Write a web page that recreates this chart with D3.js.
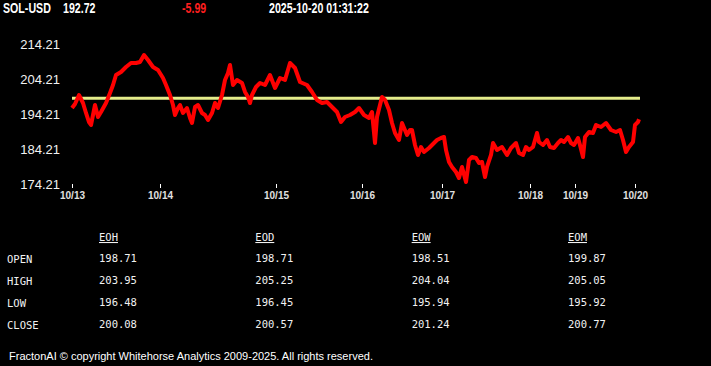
<!DOCTYPE html>
<html>
<head>
<meta charset="utf-8">
<script src="https://cdn.jsdelivr.net/npm/d3@7"></script>
<style>
  html, body { margin: 0; padding: 0; background: #000; }
  svg { display: block; }
</style>
</head>
<body>
<svg id="chart" width="711" height="366"></svg>
<script>
// header
let symbol = "SOL-USD";
let lastPrice = "192.72";
let change = "-5.99";
let stamp = "2025-10-20 01:31:22";

// price series (sample number, price)
let sampleIdx = [0,3,7,11,14,17,19,21,23,26,29,34,38,41,44,49,54,59,64,68,72,76,81,86,91,94,98,101,103,106,108,111,115,118,120,123,126,130,133,136,140,143,146,150,153,156,158,161,165,170,173,176,178,180,184,188,193,198,203,208,213,218,223,228,235,240,245,250,255,260,265,269,273,278,283,287,292,297,300,303,305,308,310,313,317,320,323,327,330,335,338,340,343,346,349,352,357,362,365,369,372,374,377,380,384,387,390,394,397,400,404,407,410,413,415,419,421,425,430,435,439,444,447,451,454,457,461,465,467,471,475,478,482,486,489,492,496,499,502,506,508,511,513,517,521,524,529,534,539,544,548,551,554,557,561,563,566,567];
let prices = [195.92,197.07,199.64,197.35,194.50,191.92,191.07,193.92,196.78,193.35,194.78,197.35,200.21,202.50,205.35,206.21,207.64,208.78,208.78,209.07,211.07,209.64,207.64,206.78,204.50,202.50,199.64,196.78,193.92,195.92,196.78,194.50,195.92,193.07,191.64,196.21,196.78,194.50,193.92,192.50,194.50,197.35,195.92,199.64,203.92,205.92,208.21,202.50,203.92,203.07,200.50,199.07,197.35,199.64,201.92,203.07,202.50,205.35,201.64,204.50,203.92,208.78,207.35,203.35,202.50,200.50,198.21,197.35,197.64,196.21,194.78,191.92,193.35,193.92,194.78,195.92,193.92,193.07,194.78,185.92,193.35,196.78,199.07,198.21,195.35,191.64,188.78,186.78,191.64,188.21,189.64,189.64,185.35,182.50,184.78,183.35,184.50,185.92,186.78,187.35,187.64,183.92,180.50,179.07,177.64,175.92,179.07,174.78,181.07,181.92,181.64,180.21,180.50,176.21,179.07,182.50,185.92,183.92,184.78,182.50,184.50,185.92,183.07,182.50,184.78,183.92,184.78,188.78,186.21,185.35,186.78,184.78,184.50,185.92,186.78,186.21,187.64,185.92,185.35,187.35,185.35,181.92,187.64,189.07,188.78,191.07,190.50,191.64,189.64,189.07,189.64,186.78,183.35,184.78,186.21,191.07,191.92,192.72];
let openPrice = 198.71;

// axes
let yTicks = [174.21, 184.21, 194.21, 204.21, 214.21];
let dayLabels = ["10/13","10/14","10/15","10/16","10/17","10/18","10/19","10/20"];
let dayIdx = [0, 88, 204, 290, 370, 458, 503, 563];

// stats table
let statCols = ["EOH", "EOD", "EOW", "EOM"];
let statRows = ["OPEN", "HIGH", "LOW", "CLOSE"];
let eoh = [198.71, 203.95, 196.48, 200.08];
let eod = [198.71, 205.25, 196.45, 200.57];
let eow = [198.51, 204.04, 195.94, 201.24];
let eom = [199.87, 205.05, 195.92, 200.77];

let footer = "FractonAI \u00a9 copyright Whitehorse Analytics 2009-2025. All rights reserved.";

let chart = d3.select("#chart");

//header line - no narrow font installed, so squeeze bold Arial horizontally
function hdr(txt, xpos, col) {
    chart.append("text")
        .attr("transform", "translate(" + xpos + ",13) scale(0.76,1)")
        .attr("font-family", "'Liberation Sans', Arial, sans-serif")
        .attr("font-size", "14px")
        .attr("font-weight", "bold")
        .attr("fill", col)
        .text(txt);
}
hdr(symbol, 3, "#fff");
hdr(lastPrice, 63, "#fff");
hdr(change, 182, "#ff1f1f");
hdr(stamp, 269, "#fff");

//scales
let x = d3.scaleLinear()
    .domain([0, 567])
    .range([72, 639]);
let y = d3.scaleLinear()
    .domain([174.21, 214.21])
    .range([184, 44]);

//y labels (no tick lines)
chart.append("g").selectAll("text")
    .data(yTicks)
    .enter()
    .append("text")
        .attr("x", 60)
        .attr("y", function(d) { return y(d); })
        .attr("dy", "0.35em")
        .attr("text-anchor", "end")
        .attr("font-family", "'Liberation Sans', Arial, sans-serif")
        .attr("font-size", "13px")
        .attr("fill", "#f2f2f2")
        .text(function(d) { return d.toFixed(2); });

//x axis ticks + day labels
let xg = chart.append("g").attr("transform", "translate(0,184)");
xg.call(d3.axisBottom(x).tickValues(dayIdx).tickSize(4).tickPadding(4)
    .tickFormat(function(d, i) { return dayLabels[i]; }));
xg.select(".domain").remove();
xg.selectAll(".tick line").attr("stroke", "#fff");
xg.selectAll(".tick text")
    .attr("fill", "#e0e0e0")
    .attr("font-family", "'Liberation Sans', Arial, sans-serif")
    .attr("font-size", "10px")
    .attr("font-weight", "bold");

//open reference line
chart.append("line")
    .attr("x1", x(0))
    .attr("x2", x(568))
    .attr("y1", y(openPrice))
    .attr("y2", y(openPrice))
    .attr("stroke", "#e4ec8a")
    .attr("stroke-width", 3);

//price line
let line = d3.line()
    .x(function(d, i) { return x(sampleIdx[i]); })
    .y(function(d) { return y(d); });
chart.append("path")
    .datum(prices)
    .attr("d", line)
    .attr("fill", "none")
    .attr("stroke", "#ff0000")
    .attr("stroke-width", 4)
    .attr("stroke-linejoin", "round");

//stats table
let mono = "'DejaVu Sans Mono', 'Liberation Mono', monospace";
let colX = d3.scalePoint().domain(statCols).range([99, 568]);
let rowY = d3.scalePoint().domain(statRows).range([262, 328]);
let colData = [eoh, eod, eow, eom];

chart.append("g").selectAll("text")
    .data(statCols)
    .enter()
    .append("text")
        .attr("x", function(d) { return colX(d); })
        .attr("y", 241)
        .attr("font-family", mono)
        .attr("font-size", "10.5px")
        .attr("fill", "#f2f2f2")
        .attr("text-decoration", "underline")
        .text(function(d) { return d; });

chart.append("g").selectAll("text")
    .data(statRows)
    .enter()
    .append("text")
        .attr("x", 7)
        .attr("y", function(d) { return rowY(d) + 1; })
        .attr("font-family", mono)
        .attr("font-size", "10.5px")
        .attr("fill", "#f2f2f2")
        .text(function(d) { return d; });

statCols.forEach(function(c, ci) {
    chart.append("g").selectAll("text")
        .data(colData[ci])
        .enter()
        .append("text")
            .attr("x", colX(c))
            .attr("y", function(d, i) { return rowY(statRows[i]); })
            .attr("font-family", mono)
            .attr("font-size", "10.5px")
            .attr("fill", "#f2f2f2")
            .text(function(d) { return d.toFixed(2); });
});

//footer
chart.append("text")
    .attr("x", 9)
    .attr("y", 360)
    .attr("font-family", "'Liberation Sans', Arial, sans-serif")
    .attr("font-size", "11px")
    .attr("fill", "#fff")
    .text(footer);
</script>
</body>
</html>
